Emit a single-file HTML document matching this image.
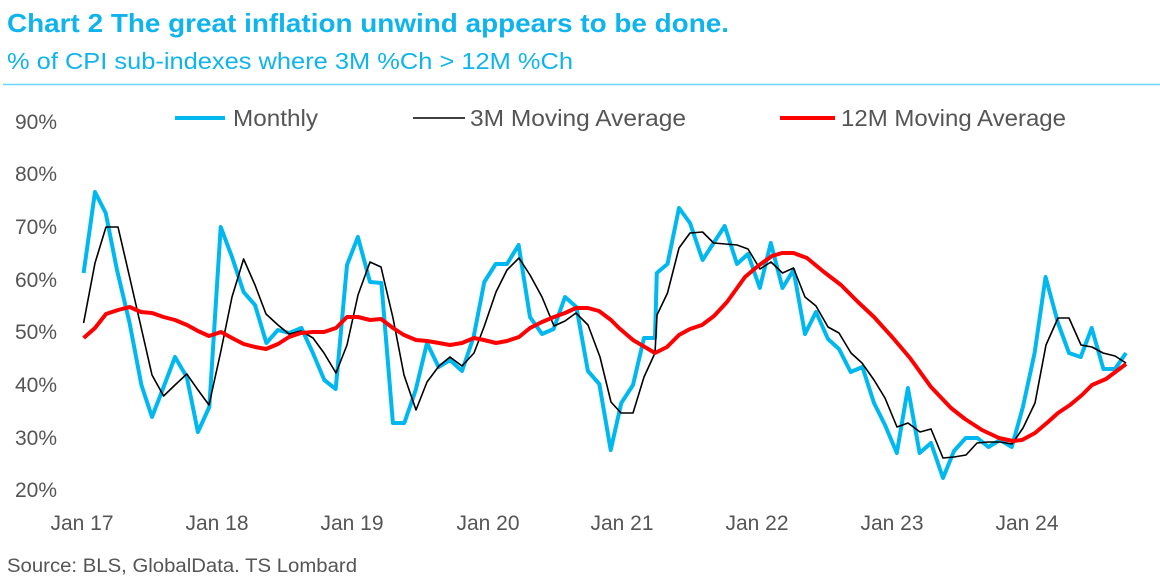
<!DOCTYPE html>
<html><head><meta charset="utf-8"><style>
html,body{margin:0;padding:0;background:#fff;}
svg{display:block;font-family:"Liberation Sans",sans-serif;}
</style></head><body>
<svg width="1160" height="580" viewBox="0 0 1160 580" xmlns="http://www.w3.org/2000/svg">
<text x="7" y="32" font-size="26" font-weight="bold" fill="#10b4ec" textLength="722" lengthAdjust="spacingAndGlyphs">Chart 2 The great inflation unwind appears to be done.</text>
<text x="7" y="69" font-size="23" fill="#10b4ec" textLength="566" lengthAdjust="spacingAndGlyphs">% of CPI sub-indexes where 3M %Ch &gt; 12M %Ch</text>
<line x1="3" y1="84.5" x2="1160" y2="84.5" stroke="#6fd3f5" stroke-width="1.5"/>
<g font-size="21" fill="#555">
<text x="15" y="129">90%</text><text x="15" y="181">80%</text><text x="15" y="234">70%</text>
<text x="15" y="287">60%</text><text x="15" y="339">50%</text><text x="15" y="392">40%</text>
<text x="15" y="445">30%</text><text x="15" y="497">20%</text>
</g>
<g font-size="21" fill="#555" text-anchor="middle">
<text x="82" y="530">Jan 17</text><text x="217" y="530">Jan 18</text><text x="352" y="530">Jan 19</text>
<text x="488" y="530">Jan 20</text><text x="622" y="530">Jan 21</text><text x="757" y="530">Jan 22</text>
<text x="892" y="530">Jan 23</text><text x="1027" y="530">Jan 24</text>
</g>
<line x1="175" y1="118" x2="225" y2="118" stroke="#00b8f0" stroke-width="4"/>
<text x="233" y="126" font-size="23" fill="#555" textLength="85" lengthAdjust="spacingAndGlyphs">Monthly</text>
<line x1="413" y1="118" x2="465" y2="118" stroke="#000" stroke-width="1.5"/>
<text x="470" y="126" font-size="23" fill="#555" textLength="216" lengthAdjust="spacingAndGlyphs">3M Moving Average</text>
<line x1="780" y1="118" x2="835" y2="118" stroke="#f00" stroke-width="4"/>
<text x="841" y="126" font-size="23" fill="#555" textLength="225" lengthAdjust="spacingAndGlyphs">12M Moving Average</text>
<polyline fill="none" stroke="#00b8f0" stroke-width="4" stroke-linejoin="round" points="83.6,273 95,192 105.7,213 117,270 129.6,323 141.4,385 152,417 163.6,387 175,357 186.8,377 197.9,432 209.3,407 220.7,227 232,257 243.6,292 255,305 266.4,343 277.9,330 289.3,333 301.4,328 312.9,353 324.3,380 335.7,389 347,265 357.9,237 370,282 381.4,283 392.9,423 404.3,423 415.7,390 427,343 438.6,367 450,360 462,371 473.6,337 484.3,282 495.7,264 507,264 518.6,245 530,317 542,334 553.6,329 565,297 576.4,307 587.9,371 599.3,384 610.7,450 621.3,403 633,385 644,338 655,338 656.8,273 667.5,264 679,208 690,223 702.6,260 713.6,243 724.7,226 737,264 748,254 759.8,288 770.8,243 782.5,288 793.5,270 805,334 816,312 828,339 839,349 850.7,372 862.4,367 874,403 885,425 896.8,453 907.9,388 919.6,453 931,443 943,478 954,451 965.7,438 977.4,438 988.4,447 1000,440 1011.8,447 1022.9,407 1034.6,353 1045.6,277 1058,323 1069,353 1080.7,357 1091.7,328 1103.4,369 1115,369 1126,353"/>
<polyline fill="none" stroke="#000" stroke-width="1.6" stroke-linejoin="round" points="83.6,323 95,263 106,227 118,227 129.6,277 152,375 163.6,396 175,385 186.8,374 198,390 209,405 220.7,352 232,297 243.6,259 255,285 266,314 278,325 289,334 301,331 313,338 324,353 336,373 347,345 358,295 370,262 381,267 393,318 404,375 416,410 427,382 439,366 450,357 462,366 474,353 484,327 496,292 507,270 519,258 530,275 542,297 554,326 565,321 576,313 588,325 600,357 611,402 621,413 633,413 644,377 655,353 657,315 667.5,293 679,248 690,233 702.6,232 713.6,243 737,245 748,249 760,269 771,262 782.5,273 793.5,268 805,297 816,306 828,327 839,333 851,353 862,363 874,380 885,398 897,427 908,423 920,432 931,429 943,458 954,457 966,455 977,443 988,442 1000,442 1012,444 1023,428 1035,403 1046,345 1058,318 1069,318 1081,345 1092,347 1103,353 1115,356 1126,363"/>
<polyline fill="none" stroke="#f00" stroke-width="4" stroke-linejoin="round" points="83.6,338 95,328 106,314 118,310 129.6,307 141,312 152,313 163.6,317 175,320 187,325 198,331 209,336 221,332 232,338 243.6,344 255,347 266,349 278,344 289,337 301,333 313,332 324,332 336,328 347,317 358,317 370,320 381,319 393,328 404,335 416,340 427,341 439,343 450,345 462,343 474,338 484,340 496,343 507,341 519,337 530,328 542,322 554,317 565,313 576,308 588,308 599,311 611,320 619,328 633,340 655,353 667,347 679,335 690,329 702,325 714,316 727,302 745,277 758,266 772,256 782,253 793.5,253 807,258 824,272 841,285 858,302 874,317 893,338 910,358 931,387 951,408 965,419 982,430 999,438 1013,441 1022,440 1035,433 1048,422 1058,413 1070,405 1082,395 1092,385 1106,379 1126,364"/>
<text x="7" y="572" font-size="19" fill="#555" textLength="350" lengthAdjust="spacingAndGlyphs">Source: BLS, GlobalData. TS Lombard</text>
</svg>
</body></html>
